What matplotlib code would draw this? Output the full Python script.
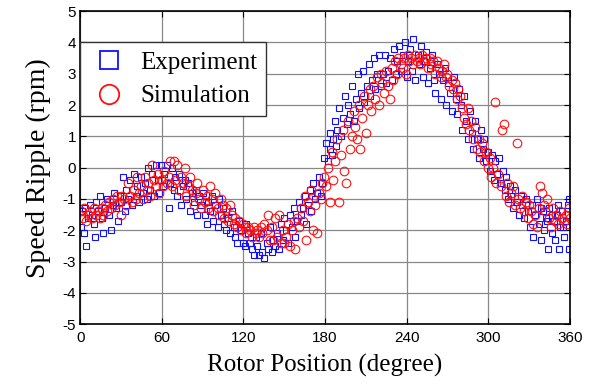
import numpy as np
import matplotlib.pyplot as plt
from matplotlib.lines import Line2D

# measured speed ripple (blue squares)
exp_deg = [
    0.5, 1.5, 2.5, 3.5, 4.5, 6, 7, 8.5, 10, 11,
    12, 13.5, 14.5, 16, 17, 18.5, 20, 21, 22.5, 24,
    25, 26.5, 27.5, 29, 30, 31.5, 33, 34, 35.5, 37,
    38, 39.5, 41, 42, 43.5, 45, 46, 47.5, 49, 50,
    51.5, 53, 54, 55.5, 57, 58, 59.5, 61, 62, 63.5,
    65, 66, 67.5, 69, 70, 71.5, 73, 74, 75.5, 77,
    78, 79.5, 81, 82, 83.5, 85, 86, 87.5, 89, 90,
    91.5, 93, 94, 95.5, 97, 98, 99.5, 101, 102, 103.5,
    105, 106, 107.5, 109, 110, 111.5, 113, 114, 115.5, 117,
    118, 119.5, 121, 122, 123.5, 125, 126, 127.5, 129, 130,
    131.5, 133, 134, 135.5, 137, 138, 139.5, 141, 142, 143.5,
    145, 146, 147.5, 149, 150, 151.5, 153, 154, 155.5, 157,
    158, 159.5, 161, 162, 163.5, 165, 166, 167.5, 169, 170,
    171.5, 173, 174, 175.5, 177, 178, 179.5, 181, 182, 183.5,
    184, 185.5, 186, 187.5, 188, 189, 190.5, 192, 193, 194.5,
    196, 197, 198.5, 200, 201, 202.5, 204, 205, 206.5, 208,
    209, 210.5, 212, 213, 214.5, 216, 217, 218.5, 220, 221,
    222.5, 224, 225, 226.5, 228, 229, 230.5, 232, 233, 234.5,
    236, 237, 238.5, 240, 241, 242.5, 244, 245, 246.5, 248,
    249, 250.5, 252, 253, 254.5, 256, 257, 258.5, 260, 261,
    262.5, 264, 265, 266.5, 268, 269, 270.5, 272, 273, 274.5,
    276, 277, 278.5, 280, 281, 282.5, 284, 285, 286.5, 288,
    289, 290.5, 292, 293, 294.5, 296, 297, 298.5, 300, 301,
    302.5, 304, 305, 306.5, 308, 309, 310.5, 312, 313, 314.5,
    316, 317, 318.5, 320, 321, 322.5, 324, 325, 326.5, 328,
    329, 330.5, 332, 333, 334.5, 336, 337, 338.5, 340, 341,
    342.5, 344, 345, 346.5, 348, 349, 350.5, 352, 353, 354.5,
    356, 357, 358.5, 359.5, 359, 355, 351, 347, 343, 339,
]
exp_rpm = [
    -1.9, -1.4, -2.1, -1.3, -2.5, -1.6, -1.2, -1.5, -1.8, -2.2,
    -1.1, -1.4, -0.9, -1.6, -2.1, -1.3, -1.0, -1.5, -2.0, -1.2,
    -0.8, -1.3, -1.7, -0.9, -1.1, -0.3, -1.4, -0.7, -1.0, -0.4,
    -1.2, -0.2, -0.9, -0.6, -1.1, -0.3, -0.8, -0.5, -1.0, 0.0,
    -0.7, -0.2, -0.9, 0.1, -0.4, -0.8, 0.1, -0.6, -0.2, 0.1,
    -1.3, -0.5, 0.0, -0.7, -0.3, -0.9, -0.2, -1.2, -0.6, -0.4,
    -1.0, -0.5, -1.4, -0.8, -1.1, -0.7, -1.5, -0.9, -1.2, -0.8,
    -1.5, -1.8, -1.1, -1.4, -0.9, -1.7, -1.2, -1.9, -1.0, -1.5,
    -1.3, -1.8, -2.0, -1.6, -2.1, -1.4, -1.9, -2.2, -2.4, -1.7,
    -2.0, -2.4, -2.5, -1.8, -2.1, -2.4, -2.6, -2.8, -2.2, -2.5,
    -2.8, -2.1, -2.7, -2.9, -2.4, -2.6, -1.9, -2.7, -2.3, -2.5,
    -2.1, -2.6, -1.8, -2.3, -1.6, -2.0, -2.4, -1.5, -1.9, -1.3,
    -2.2, -1.7, -1.1, -1.5, -1.3, -0.9, -1.8, -1.2, -0.7, -1.4,
    -0.5, -1.0, -0.8, -0.3, -0.9, -0.5, 0.3, 0.8, 0.2, 0.6,
    1.1, 0.4, 0.9, 1.5, 0.7, 1.2, 1.9, 1.0, 1.6, 2.3,
    1.4, 2.0, 1.7, 2.6, 1.5, 2.2, 3.0, 1.9, 2.4, 3.1,
    2.1, 2.6, 3.3, 2.3, 2.8, 3.5, 2.5, 3.0, 3.6, 2.6,
    3.0, 3.6, 2.7, 3.1, 3.5, 2.8, 3.8, 3.0, 3.4, 3.9,
    3.1, 3.6, 4.0, 2.9, 3.4, 3.8, 3.1, 4.1, 2.8, 3.6,
    3.3, 3.9, 2.9, 3.4, 3.7, 2.7, 3.2, 3.6, 2.8, 2.4,
    3.3, 3.0, 2.2, 2.8, 3.2, 2.0, 2.7, 2.4, 1.8, 2.9,
    2.2, 1.7, 2.5, 2.0, 1.2, 2.3, 1.5, 0.9, 1.8, 1.1,
    0.6, 1.5, 0.9, 0.3, 1.2, 0.6, 0.9, 0.2, 0.5, -0.1,
    0.4, -0.4, 0.2, -0.2, 0.3, -0.5, -0.1, -0.7, -0.3, -1.0,
    -0.6, -0.9, -1.3, -0.7, -1.1, -1.5, -0.9, -1.2, -1.6, -1.0,
    -1.4, -1.9, -1.2, -2.2, -1.5, -1.0, -1.8, -2.3, -1.4, -2.0,
    -1.6, -2.6, -1.3, -2.1, -1.7, -2.3, -1.5, -2.6, -1.9, -1.4,
    -2.2, -1.7, -1.2, -1.0, -2.6, -1.9, -1.2, -1.5, -1.7, -1.3,
]

# simulated speed ripple (red circles)
sim_deg = [
    0.5, 2, 3, 4.5, 6, 7.5, 9, 10, 11.5, 13,
    14.5, 16, 17, 18.5, 20, 21.5, 23, 24, 25.5, 27,
    28.5, 30, 31, 32.5, 34, 35.5, 37, 38, 39.5, 41,
    42, 43.5, 45, 46, 47.5, 49, 50, 51.5, 53, 54,
    55.5, 57, 58, 59.5, 61, 62, 63.5, 65, 66, 67.5,
    69, 70, 71.5, 73, 74, 75.5, 77, 78, 79.5, 81,
    82, 83.5, 85, 86, 87.5, 89, 90, 91.5, 93, 94,
    95.5, 97, 98, 99.5, 101, 102, 103.5, 105, 106, 107.5,
    109, 110, 111.5, 113, 114, 115.5, 117, 118, 119.5, 121,
    122, 123.5, 125, 126, 127.5, 129, 130, 131.5, 133, 134,
    135.5, 137, 138, 139.5, 141, 142, 143.5, 145, 146, 147.5,
    149, 150, 151.5, 153, 154, 155.5, 157, 158, 159.5, 161,
    162, 163.5, 165, 166, 167.5, 169, 170, 171.5, 173, 174,
    175.5, 177, 178, 179.5, 181, 182, 183.5, 185, 186, 187.5,
    189, 190, 191.5, 193, 194, 195.5, 197, 198, 199.5, 201,
    202, 203.5, 205, 206, 207.5, 209, 210, 211.5, 213, 214,
    215.5, 217, 218, 219.5, 221, 222, 223.5, 225, 226, 227.5,
    229, 230, 231.5, 233, 234, 235.5, 237, 238, 239.5, 241,
    242, 243.5, 245, 246, 247.5, 249, 250, 251.5, 253, 254,
    255.5, 257, 258, 259.5, 261, 262, 263.5, 265, 266, 267.5,
    269, 270, 271.5, 273, 274, 275.5, 277, 278, 279.5, 281,
    282, 283.5, 285, 286, 287.5, 289, 290, 291.5, 293, 294,
    295.5, 297, 298, 299.5, 301, 302, 303.5, 305, 306, 307.5,
    309, 310, 311.5, 313, 314, 315.5, 317, 318, 319.5, 321,
    322, 323.5, 325, 326, 327.5, 329, 330, 331.5, 333, 334,
    335.5, 337, 338, 339.5, 341, 342, 343.5, 345, 346, 347.5,
    349, 350, 351.5, 353, 354, 355.5, 357, 358, 359, 360,
]
sim_rpm = [
    -1.4, -1.6, -1.3, -1.7, -1.5, -1.4, -1.6, -1.3, -1.5, -1.4,
    -1.6, -1.3, -1.5, -1.2, -1.4, -1.1, -1.3, -1.0, -1.2, -0.9,
    -1.1, -1.5, -0.9, -1.0, -1.2, -0.5, -0.9, -1.1, -0.7, -1.0,
    -0.3, -0.8, -0.6, -1.0, -0.3, -0.7, -0.5, -0.9, 0.1, -0.4,
    -0.6, -0.2, -0.8, -0.4, -0.6, -0.1, -0.5, -0.3, 0.2, -0.6,
    0.2, -0.4, 0.1, -0.7, -0.3, -0.5, 0.0, -0.9, -0.6, -0.3,
    -0.7, -1.2, -0.8, -0.5, -1.0, -1.3, -0.7, -1.1, -0.9, -1.3,
    -0.6, -1.0, -1.4, -0.8, -1.3, -1.5, -1.0, -1.2, -1.6, -1.3,
    -1.7, -1.2, -1.5, -1.8, -1.6, -1.9, -1.7, -2.0, -1.8, -1.9,
    -2.1, -1.9, -2.0, -2.2, -1.9, -2.1, -2.0, -2.2, -1.9, -2.1,
    -1.8, -2.0, -1.5, -2.3, -1.9, -2.3, -1.6, -2.2, -1.5, -2.4,
    -2.0, -2.4, -2.2, -1.8, -2.5, -2.0, -1.7, -2.6, -1.6, -1.9,
    -1.3, -1.7, -0.9, -2.3, -1.1, -1.4, -0.7, -2.0, -1.2, -2.1,
    -0.8, -1.0, -0.5, -0.3, -0.6, 0.0, -1.1, 0.5, -0.4, 0.2,
    0.9, -1.1, 0.4, 1.2, -0.1, -0.5, 1.5, 0.6, 1.0, 1.8,
    1.3, 0.9, 2.0, 0.6, 1.6, 2.3, 1.1, 2.0, 2.5, 1.8,
    2.6, 2.2, 2.9, 2.0, 3.0, 2.7, 2.4, 3.1, 2.6, 2.2,
    3.2, 2.8, 3.4, 3.0, 3.5, 3.3, 3.2, 3.5, 3.0, 3.6,
    3.4, 3.5, 3.3, 3.6, 3.4, 3.5, 3.3, 3.6, 3.4, 3.5,
    3.2, 3.5, 3.3, 3.4, 3.0, 3.4, 3.2, 2.9, 3.1, 3.3,
    2.9, 3.0, 2.6, 2.8, 2.5, 2.7, 2.2, 2.5, 2.3, 1.9,
    1.6, 1.4, 1.9, 1.2, 1.5, 0.9, 1.3, 0.6, 0.9, 0.5,
    0.8, 0.2, 0.5, 0.0, 0.3, -0.3, 0.0, 2.1, -0.5, -0.2,
    -0.6, 1.2, 1.4, -0.9, -0.5, -1.1, -0.8, -0.6, -1.2, 0.8,
    -1.0, -1.3, -0.9, -1.4, -1.1, -1.6, -1.2, -1.4, -1.8, -1.5,
    -1.9, -1.3, -0.6, -0.8, -1.2, -1.4, -1.0, -1.6, -1.9, -1.3,
    -1.7, -1.5, -1.8, -1.4, -1.6, -1.7, -1.5, -1.8, -1.3, -1.6,
]

x_ticks = [0, 60, 120, 180, 240, 300, 360]
y_ticks = [-5, -4, -3, -2, -1, 0, 1, 2, 3, 4, 5]

plt.rcParams['font.family'] = ['Liberation Sans', 'DejaVu Sans']
plt.rcParams['axes.unicode_minus'] = False
serif = 'Liberation Serif'

fig = plt.figure(figsize=(5.98, 3.85), dpi=100)
ax = fig.add_axes([0.134, 0.158, 0.819, 0.813])

ax.plot(exp_deg, exp_rpm, 's', ls='none', ms=4.2, mfc='none', mec='#1010ff', mew=0.8)
ax.plot(sim_deg, sim_rpm, 'o', ls='none', ms=6.2, mfc='none', mec='#ff1010', mew=0.8)

ax.set_xlim(0, 360)
ax.set_ylim(-5, 5)
ax.set_xticks(x_ticks)
ax.set_yticks(y_ticks)
ax.tick_params(direction='in', top=True, right=True, length=4, width=0.8, labelsize=11)
ax.tick_params(axis='x', pad=5)
ax.tick_params(axis='y', pad=3)
ax.grid(True, color='#888888', lw=0.9)
for s in ax.spines.values():
    s.set_linewidth(1.2)

ax.set_xlabel('Rotor Position (degree)', family=serif, fontsize=18, labelpad=6)
ax.set_ylabel('Speed Ripple (rpm)', family=serif, fontsize=20, labelpad=8)

handles = [
    Line2D([], [], marker='s', ls='none', ms=13, mfc='none', mec='#1010ff', mew=1.3),
    Line2D([], [], marker='o', ls='none', ms=14, mfc='none', mec='#ff1010', mew=1.3),
]
leg = ax.legend(handles, ['Experiment', 'Simulation'], loc='upper left',
                bbox_to_anchor=(0.0, 0.90), borderaxespad=0, fancybox=False,
                framealpha=1, edgecolor='#333333', prop={'family': serif, 'size': 18},
                handletextpad=0.45, handlelength=1.6, labelspacing=0.45, borderpad=0.35)
leg.get_frame().set_linewidth(1.0)

fig.savefig('out.png', dpi=100)
